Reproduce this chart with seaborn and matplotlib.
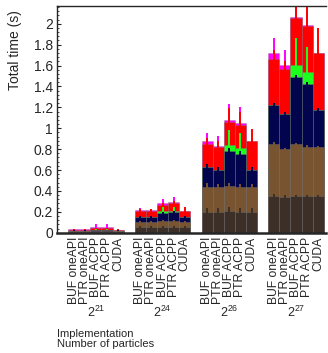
import pandas as pd
import matplotlib
matplotlib.use('Agg')
import matplotlib.pyplot as plt
import seaborn as sns
from matplotlib.ticker import MultipleLocator, AutoMinorLocator, FuncFormatter

particles = ['$\\mathregular{2^{21}}$', '$\\mathregular{2^{24}}$',
             '$\\mathregular{2^{26}}$', '$\\mathregular{2^{27}}$']
implementations = ['BUF oneAPI', 'PTR oneAPI', 'BUF ACPP', 'PTR ACPP', 'CUDA']

# segment heights (s), bottom -> top, one row per particle count
seg_dark = [[0.006, 0.006, 0.006, 0.006, 0.006],
            [0.052, 0.052, 0.055, 0.055, 0.052],
            [0.198, 0.198, 0.205, 0.200, 0.200],
            [0.355, 0.345, 0.350, 0.350, 0.352]]
seg_brown = [[0.007, 0.007, 0.008, 0.008, 0.007],
             [0.053, 0.053, 0.057, 0.057, 0.053],
             [0.243, 0.237, 0.240, 0.240, 0.240],
             [0.498, 0.455, 0.498, 0.472, 0.467]]
seg_navy = [[0.008, 0.008, 0.012, 0.012, 0.008],
            [0.048, 0.045, 0.080, 0.083, 0.045],
            [0.186, 0.166, 0.338, 0.315, 0.160],
            [0.367, 0.338, 0.638, 0.604, 0.351]]
seg_green = [[0.0, 0.0, 0.004, 0.004, 0.0],
             [0.0, 0.0, 0.013, 0.015, 0.0],
             [0.0, 0.0, 0.058, 0.054, 0.0],
             [0.0, 0.0, 0.119, 0.108, 0.0]]
seg_red = [[0.009, 0.009, 0.012, 0.012, 0.009],
           [0.058, 0.056, 0.064, 0.072, 0.061],
           [0.223, 0.217, 0.223, 0.221, 0.273],
           [0.445, 0.429, 0.447, 0.446, 0.550]]
seg_magenta = [[0.001, 0.001, 0.010, 0.010, 0.0],
               [0.009, 0.009, 0.016, 0.012, 0.0],
               [0.023, 0.016, 0.016, 0.019, 0.0],
               [0.055, 0.038, 0.008, 0.010, 0.0]]

# error half-widths on the cumulative tops
err_dark = [[0.002] * 5, [0.008] * 5, [0.04] * 5, [0.012] * 5]
err_brown = [[0.002] * 5, [0.01] * 5, [0.03] * 5, [0.015] * 5]
err_navy = [[0.002] * 5, [0.01] * 5, [0.03] * 5, [0.02] * 5]
err_green = [[0.0, 0.0, 0.003, 0.003, 0.0],
             [0.0, 0.0, 0.04, 0.04, 0.0],
             [0.0, 0.0, 0.144, 0.144, 0.0],
             [0.0, 0.0, 0.259, 0.243, 0.0]]
err_red = [[0.003, 0.003, 0.004, 0.004, 0.003],
           [0.02, 0.02, 0.02, 0.02, 0.039],
           [0.06, 0.06, 0.13, 0.13, 0.117],
           [0.085, 0.073, 0.15, 0.22, 0.236]]
err_magenta = [[0.002, 0.002, 0.031, 0.031, 0.0],
               [0.014, 0.014, 0.038, 0.051, 0.0],
               [0.086, 0.093, 0.154, 0.15, 0.0],
               [0.144, 0.14, 0.12, 0.12, 0.0]]

layers = [('dark', seg_dark, err_dark, '#3c2f27'),
          ('brown', seg_brown, err_brown, '#785431'),
          ('navy', seg_navy, err_navy, '#03044e'),
          ('green', seg_green, err_green, '#1cff1c'),
          ('red', seg_red, err_red, '#ff0000'),
          ('magenta', seg_magenta, err_magenta, '#ff00ff')]

rows = []
for g in range(len(particles)):
    for j, impl in enumerate(implementations):
        r = {'pos': 6 * g + 1.5 + j, 'impl': impl}
        total = 0.0
        for name, seg, err, col in layers:
            total += seg[g][j]
            r['cum_' + name] = total
            r['err_' + name] = err[g][j]
        rows.append(r)
df = pd.DataFrame(rows)

sns.set_style('ticks')
plt.rcParams['font.family'] = ['Liberation Sans', 'DejaVu Sans']
plt.rcParams['mathtext.fontset'] = 'custom'
plt.rcParams['mathtext.rm'] = 'Liberation Sans'

fig = plt.figure(figsize=(3.28, 3.53), dpi=100)
ax = fig.add_axes([57 / 328, 0.3408, 269 / 328, 0.6422])

# ROOT-style stack: draw the highest cumulative first, lower ones on top
for i, (name, seg, err, col) in enumerate(reversed(layers)):
    z = 2 + 2 * i
    sns.barplot(data=df, x='pos', y='cum_' + name, native_scale=True, width=1,
                color=col, saturation=1, edgecolor=(0.5, 0.5, 0.5, 0.6),
                linewidth=0.4, errorbar=None, ax=ax, zorder=z)
    sub = df[df['err_' + name] > 0]
    ax.vlines(sub['pos'], sub['cum_' + name] - sub['err_' + name],
              sub['cum_' + name] + sub['err_' + name],
              color=col, linewidth=1.4, zorder=z + 1)

ax.set_xlim(0, 24.2)
ax.set_ylim(0, 2.17)
ax.set_xticks(df['pos'])
ax.set_xticklabels(df['impl'], rotation=90, va='top', ha='center', fontsize=8.7)
ax.tick_params(axis='x', length=0, pad=3)
ax.yaxis.set_major_locator(MultipleLocator(0.2))
ax.yaxis.set_minor_locator(AutoMinorLocator(5))
ax.yaxis.set_major_formatter(FuncFormatter(lambda v, p: '%g' % round(v, 2)))
ax.tick_params(axis='y', which='major', direction='in', length=3, width=0.8,
               labelsize=10, pad=3)
ax.tick_params(axis='y', which='minor', direction='in', length=1.5, width=0.6)
ax.set_xlabel('')
ax.set_ylabel('Total time (s)', fontsize=10, loc='top')
ax.yaxis.set_label_coords(-0.13, 0.982)

for g, lab in enumerate(particles):
    ax.text(6 * g + 3.5, -0.35, lab, transform=ax.get_xaxis_transform(),
            ha='center', va='center', fontsize=9)

ax.spines['right'].set_visible(False)
ax.spines['top'].set_linewidth(1.0)
ax.spines['left'].set_linewidth(1.0)
ax.spines['bottom'].set_linewidth(1.8)
for s in ax.spines.values():
    s.set_zorder(30)

fig.text(57 / 328, 1 - 334 / 353, 'Implementation', fontsize=8, va='center')
fig.text(57 / 328, 1 - 344 / 353, 'Number of particles', fontsize=8, va='center')

fig.savefig('out.png', dpi=100)
